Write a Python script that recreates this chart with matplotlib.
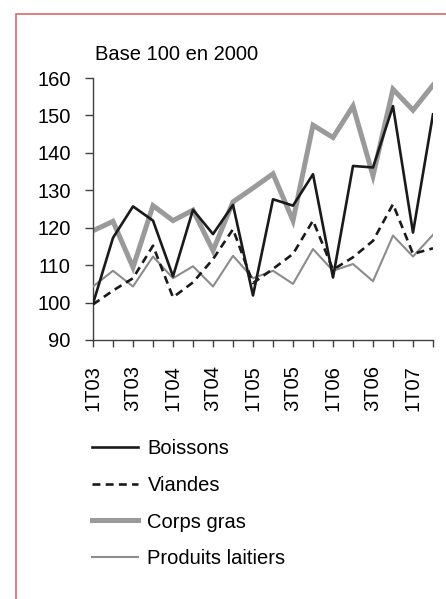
import matplotlib.pyplot as plt
from matplotlib.patches import Rectangle

plt.rcParams['font.family'] = ['Liberation Sans', 'DejaVu Sans']

# ----- Data (base 100 en 2000) -----
quarters = ["1T03", "2T03", "3T03", "4T03", "1T04", "2T04", "3T04", "4T04",
            "1T05", "2T05", "3T05", "4T05", "1T06", "2T06", "3T06", "4T06",
            "1T07", "2T07"]
boissons = [99.7, 117.3, 125.7, 121.9, 107.0, 124.8, 118.3, 126.1, 101.9,
            127.6, 125.9, 134.3, 106.7, 136.5, 136.1, 152.5, 118.7, 150.3]
viandes = [99.5, 103.2, 106.5, 115.2, 101.4, 105.4, 111.6, 119.6, 105.2,
           109.0, 113.0, 121.9, 108.8, 112.1, 116.5, 126.3, 113.0, 114.5]
corps_gras = [119.2, 121.7, 109.4, 125.9, 121.9, 124.7, 113.9, 126.9, 130.6,
              134.4, 121.9, 147.4, 144.1, 152.5, 133.9, 157.0, 151.4, 158.1]
laitiers = [104.3, 108.5, 104.3, 112.3, 106.5, 109.7, 104.3, 112.5, 106.5,
            108.5, 105.0, 114.3, 108.5, 110.3, 105.7, 117.9, 112.3, 118.1]

W, H = 446, 599
FS = 14.5
fig = plt.figure(figsize=(W / 100, H / 100), dpi=100)

# red frame (cropped on the right and bottom)
fig.patches.append(Rectangle((15.5 / W, -0.1), 1.2, 1 - 13.5 / H + 0.1,
                             transform=fig.transFigure, fill=False,
                             edgecolor="#d86b6b", linewidth=1.2))

ax = fig.add_axes([93 / W, 1 - 340 / H, 340 / W, 262 / H])
x = range(len(quarters))

ax.plot(x, corps_gras, color="#9a9a9a", lw=3.6, label="Corps gras", zorder=2,
        solid_joinstyle="miter")
ax.plot(x, laitiers, color="#8c8c8c", lw=1.5, label="Produits laitiers", zorder=3)
ax.plot(x, viandes, color="#1a1a1a", lw=1.9, ls=(0, (3, 2)), label="Viandes", zorder=4)
ax.plot(x, boissons, color="#1a1a1a", lw=1.9, label="Boissons", zorder=5)

ax.set_xlim(0, len(quarters) - 1)
ax.set_ylim(90, 160)
ax.set_yticks(range(90, 161, 10))
ax.set_xticks(list(x))
ax.set_xticklabels([q if i % 2 == 0 else "" for i, q in enumerate(quarters)],
                   rotation=90)

for s in ["top", "right"]:
    ax.spines[s].set_visible(False)
for s in ["left", "bottom"]:
    ax.spines[s].set_color("#404040")
    ax.spines[s].set_linewidth(1.0)
ax.tick_params(axis="y", length=6, width=1, color="#404040", pad=10,
               labelsize=FS)
ax.tick_params(axis="x", length=5, width=1, color="#404040", pad=13,
               labelsize=FS)

fig.text(95 / W, 1 - 55 / H, "Base 100 en 2000", fontsize=FS,
         ha="left", va="center")

# legend in the original order
h = {l.get_label(): l for l in ax.get_lines()}
order = ["Boissons", "Viandes", "Corps gras", "Produits laitiers"]
fig.legend([h[k] for k in order], order, loc="upper left",
           bbox_to_anchor=(84 / W, 1 - 431 / H), borderaxespad=0,
           frameon=False, fontsize=FS, handlelength=2.3,
           handletextpad=0.45, labelspacing=0.88)

plt.savefig("out.png", dpi=100)
